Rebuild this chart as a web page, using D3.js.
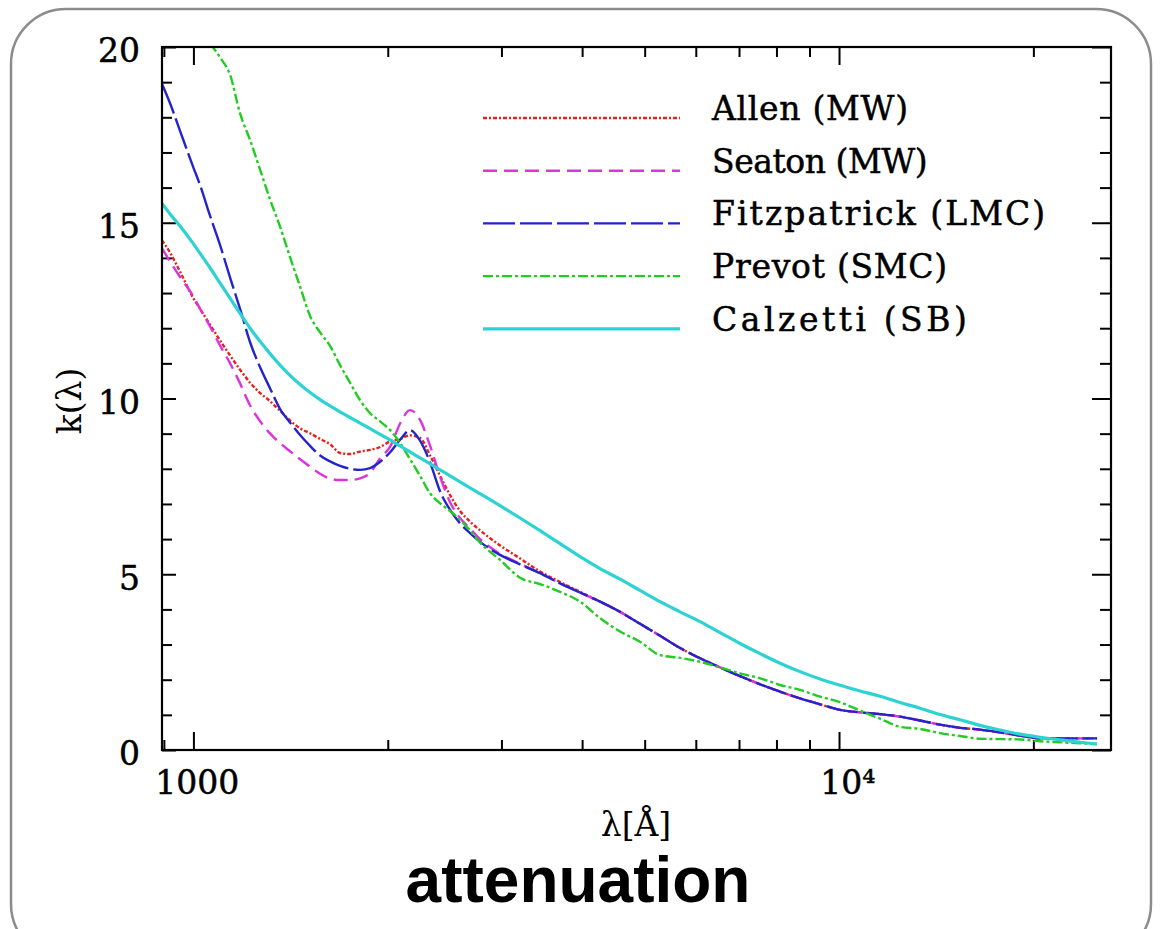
<!DOCTYPE html>
<html>
<head>
<meta charset="utf-8">
<script src="https://cdn.jsdelivr.net/npm/d3@7"></script>
<style>
  body { margin: 0; background: #fff; }
  svg { display: block; }
</style>
</head>
<body>
<script>
// wavelengths in Angstrom, k(lambda)
var wavelengths = [894, 920, 954, 1000, 1024, 1061, 1100, 1140, 1181, 1224, 1269, 1315, 1362, 1411, 1463, 1516, 1571, 1628, 1687, 1748, 1812, 1878, 1946, 2017, 2090, 2166, 2244, 2326, 2410, 2498, 2588, 2682, 2780, 2985, 3206, 3443, 3698, 3971, 4265, 4580, 4918, 5282, 5673, 6092, 6542, 7026, 7546, 8103, 8702, 9346, 10037, 10779, 11576, 12432, 13351, 14338, 15398, 16536, 17759, 19072, 20482, 21996, 23622, 25100];

var allen = [14.5, 14.15, 13.6, 12.85, 12.55, 12.1, 11.65, 11.22, 10.82, 10.45, 10.15, 9.92, 9.65, 9.38, 9.15, 9.01, 8.85, 8.7, 8.45, 8.42, 8.49, 8.54, 8.62, 8.78, 8.85, 8.95, 8.88, 8.38, 7.8, 7.25, 6.8, 6.5, 6.25, 5.82, 5.45, 5.08, 4.78, 4.5, 4.22, 3.93, 3.59, 3.25, 2.9, 2.61, 2.35, 2.1, 1.87, 1.66, 1.47, 1.3, 1.14, 1.07, 1.02, 0.95, 0.84, 0.72, 0.63, 0.58, 0.5, 0.41, 0.33, 0.33, 0.33, 0.33];

var seaton = [14.27, 13.9, 13.45, 12.9, 12.55, 12.05, 11.5, 11.0, 10.43, 9.8, 9.35, 9.0, 8.73, 8.5, 8.27, 8.06, 7.86, 7.72, 7.68, 7.68, 7.73, 7.88, 8.3, 8.63, 9.29, 9.67, 9.39, 8.65, 7.78, 7.05, 6.6, 6.3, 6.0, 5.58, 5.3, 5.03, 4.74, 4.48, 4.22, 3.93, 3.59, 3.25, 2.9, 2.61, 2.35, 2.1, 1.87, 1.66, 1.47, 1.3, 1.14, 1.07, 1.02, 0.95, 0.84, 0.72, 0.63, 0.58, 0.5, 0.41, 0.33, 0.33, 0.33, 0.33];

var fitzpatrick = [18.95, 18.4, 17.6, 16.57, 16.07, 15.2, 14.36, 13.43, 12.55, 11.6, 10.88, 10.28, 9.7, 9.32, 8.96, 8.65, 8.38, 8.21, 8.08, 8.0, 7.97, 8.02, 8.2, 8.47, 8.83, 9.1, 8.8, 8.18, 7.36, 6.83, 6.45, 6.17, 5.92, 5.55, 5.28, 5.03, 4.74, 4.48, 4.22, 3.93, 3.59, 3.25, 2.9, 2.61, 2.35, 2.1, 1.87, 1.66, 1.47, 1.3, 1.14, 1.07, 1.02, 0.95, 0.84, 0.72, 0.63, 0.58, 0.5, 0.41, 0.33, 0.33, 0.33, 0.33];

var prevot = [null, null, null, null, null, 20.1, 19.7, 19.2, 18.11, 17.35, 16.5, 15.65, 14.89, 14.03, 13.18, 12.35, 11.88, 11.5, 10.95, 10.45, 9.95, 9.58, 9.35, 9.1, 8.73, 8.27, 7.8, 7.3, 7.02, 6.8, 6.55, 6.25, 5.9, 5.41, 4.9, 4.72, 4.5, 4.22, 3.75, 3.37, 3.08, 2.7, 2.62, 2.51, 2.35, 2.18, 2.04, 1.85, 1.71, 1.52, 1.36, 1.12, 0.89, 0.66, 0.6, 0.48, 0.4, 0.32, 0.31, 0.3, 0.25, 0.22, 0.19, 0.17];

var calzetti = [15.55, 15.25, 14.9, 14.4, 14.13, 13.72, 13.28, 12.85, 12.42, 12.0, 11.62, 11.27, 10.95, 10.66, 10.4, 10.17, 9.97, 9.79, 9.62, 9.46, 9.3, 9.14, 8.98, 8.82, 8.65, 8.48, 8.31, 8.14, 7.97, 7.8, 7.63, 7.46, 7.29, 6.95, 6.6, 6.24, 5.87, 5.5, 5.16, 4.86, 4.54, 4.22, 3.93, 3.65, 3.34, 3.03, 2.74, 2.47, 2.23, 2.02, 1.84, 1.68, 1.53, 1.35, 1.19, 1.01, 0.86, 0.7, 0.57, 0.45, 0.36, 0.29, 0.22, 0.17];

var seriesNames = ["Allen (MW)", "Seaton (MW)", "Fitzpatrick (LMC)", "Prevot (SMC)", "Calzetti (SB)"];
var seriesValues = [allen, seaton, fitzpatrick, prevot, calzetti];
var seriesColors = ["#e8201a", "#dd33dd", "#2424cc", "#22cc22", "#2dd2d2"];
var seriesDash = ["4,2,2,2", "14,7", "32,5", "10,3,3,3", null];

var yMajor = [0, 5, 10, 15, 20];
var yMinor = d3.range(0, 21, 1);
var xMajor = [1000, 10000];
var xMinor = [900, 2000, 3000, 4000, 5000, 6000, 7000, 8000, 9000, 20000];
var xLabels = {1000: "1000", 10000: "10\u2074"};

var W = 1163, H = 929;
var margin = {top: 47, right: 52, bottom: 179, left: 162},
    width = W - margin.left - margin.right,
    height = H - margin.top - margin.bottom;

var svg = d3.select("body").append("svg")
    .attr("width", W)
    .attr("height", H);

// rounded card border
svg.append("rect")
    .attr("x", 11).attr("y", 9)
    .attr("width", 1140).attr("height", 950)
    .attr("rx", 55).attr("ry", 55)
    .attr("fill", "#fff")
    .attr("stroke", "#8c8c8c")
    .attr("stroke-width", 2.5);

var g = svg.append("g")
    .attr("transform", "translate(" + margin.left + "," + margin.top + ")");

var x = d3.scaleLog().domain([894, 26380]).range([0, width]);
var y = d3.scaleLinear().domain([0, 20]).range([height, 0]);

g.append("clipPath").attr("id", "plotclip")
  .append("rect").attr("width", width).attr("height", height);

// ticks (inward, on all four sides)
function styleAxis(sel) {
  sel.select(".domain").remove();
  sel.selectAll(".tick line").attr("stroke", "#000").attr("stroke-width", 2);
  sel.selectAll("text")
    .attr("font-family", "'DejaVu Serif', serif")
    .attr("font-size", 33)
    .attr("fill", "#000")
    .attr("stroke", "#000")
    .attr("stroke-width", 0.5);
}

g.append("g").attr("transform", "translate(0," + height + ")")
    .call(d3.axisBottom(x).tickValues(xMinor).tickSize(-10).tickFormat(""))
    .call(styleAxis);
g.append("g").attr("transform", "translate(0," + height + ")")
    .call(d3.axisBottom(x).tickValues(xMajor).tickSize(-18).tickPadding(21)
      .tickFormat(function(d){ return xLabels[d]; }))
    .call(styleAxis)
    .selectAll("text").attr("dx", function(d){ return d === 1000 ? "0.1em" : "0.25em"; });

g.append("g")
    .call(d3.axisTop(x).tickValues(xMinor).tickSize(-10).tickFormat(""))
    .call(styleAxis);
g.append("g")
    .call(d3.axisTop(x).tickValues(xMajor).tickSize(-18).tickFormat(""))
    .call(styleAxis);

g.append("g")
    .call(d3.axisLeft(y).tickValues(yMinor.filter(function(d){ return d % 5; })).tickSize(-10).tickFormat(""))
    .call(styleAxis);
g.append("g")
    .call(d3.axisLeft(y).tickValues(yMajor).tickSize(-14).tickPadding(22).tickFormat(d3.format("d")))
    .call(styleAxis)
    .selectAll("text").attr("dy", "0.45em");

g.append("g").attr("transform", "translate(" + width + ",0)")
    .call(d3.axisRight(y).tickValues(yMinor.filter(function(d){ return d % 5; })).tickSize(-11).tickFormat(""))
    .call(styleAxis);
g.append("g").attr("transform", "translate(" + width + ",0)")
    .call(d3.axisRight(y).tickValues(yMajor).tickSize(-19).tickFormat(""))
    .call(styleAxis);

// curves
var line = d3.line()
    .defined(function(d){ return d[1] != null; })
    .curve(d3.curveMonotoneX)
    .x(function(d){ return x(d[0]); })
    .y(function(d){ return y(d[1]); });

var curves = g.append("g").attr("clip-path", "url(#plotclip)");
seriesValues.forEach(function(vals, i) {
  var pts = wavelengths.map(function(w, j){ return [w, vals[j]]; });
  curves.append("path")
    .datum(pts)
    .attr("d", line)
    .attr("fill", "none")
    .attr("stroke", seriesColors[i])
    .attr("stroke-width", i === 4 ? 3.2 : 2.4)
    .attr("stroke-dasharray", seriesDash[i]);
});

// frame
g.append("rect")
    .attr("width", width).attr("height", height)
    .attr("fill", "none")
    .attr("stroke", "#000")
    .attr("stroke-width", 2.2);

// legend
var legend = g.append("g").attr("transform", "translate(" + (483 - margin.left) + "," + (118 - margin.top) + ")");
var item = legend.selectAll("g.item")
    .data(seriesNames)
  .enter().append("g")
    .attr("class", "item")
    .attr("transform", function(d, i){ return "translate(0," + (i * 52.7) + ")"; });

item.append("line")
    .attr("x1", 0).attr("x2", 197)
    .attr("stroke", function(d, i){ return seriesColors[i]; })
    .attr("stroke-width", function(d, i){ return i === 4 ? 3.2 : 2.4; })
    .attr("stroke-dasharray", function(d, i){ return seriesDash[i]; });

item.append("text")
    .attr("x", 229)
    .attr("y", 2)
    .attr("font-family", "'DejaVu Serif', serif")
    .attr("font-size", 33)
    .attr("stroke", "#000")
    .attr("stroke-width", 0.5)
    .attr("textLength", function(d){ return d.length * 19.6; })
    .attr("lengthAdjust", "spacing")
    .text(function(d){ return d; });

// axis titles
svg.append("text")
    .attr("x", 636).attr("y", 836)
    .attr("text-anchor", "middle")
    .attr("font-family", "'DejaVu Serif', serif")
    .attr("font-size", 33)
    .text("\u03bb[\u00c5]");

svg.append("text")
    .attr("transform", "translate(81,401) rotate(-90)")
    .attr("text-anchor", "middle")
    .attr("font-family", "'DejaVu Serif', serif")
    .attr("font-size", 33)
    .text("k(\u03bb)");

svg.append("text")
    .attr("x", 578).attr("y", 902)
    .attr("text-anchor", "middle")
    .attr("font-family", "'Liberation Sans', Arial, sans-serif")
    .attr("font-weight", "bold")
    .attr("font-size", 64)
    .text("attenuation");
</script>
</body>
</html>
